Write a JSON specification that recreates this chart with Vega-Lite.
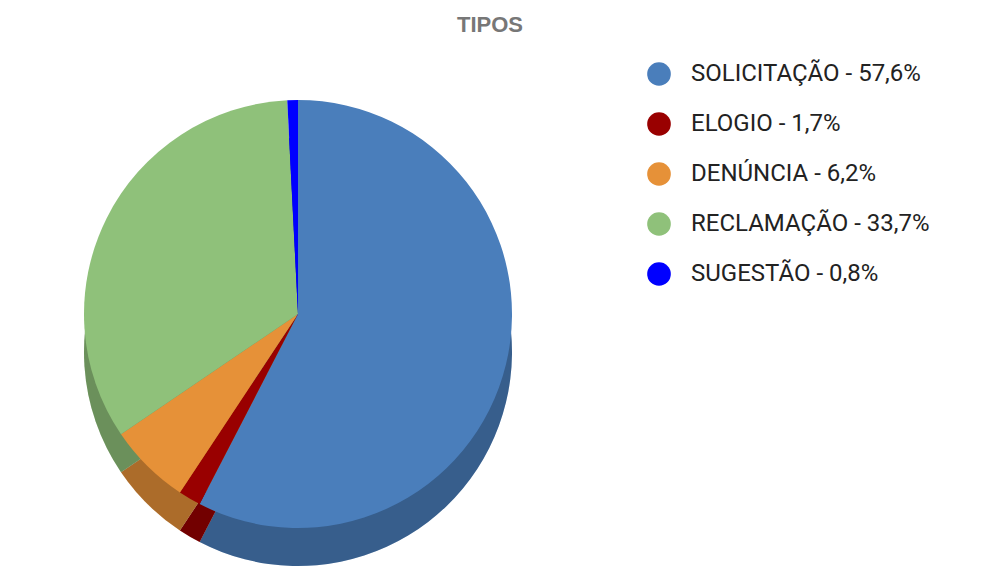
{
  "$schema": "https://vega.github.io/schema/vega-lite/v6.json",
  "autosize": {"type": "none"},
  "width": 596,
  "height": 508,
  "padding": {"left": 0, "top": 60, "right": 402, "bottom": 0},
  "background": "white",
  "title": {
    "text": "TIPOS",
    "font": "Liberation Sans",
    "fontSize": 22,
    "fontWeight": "bold",
    "color": "#777777",
    "anchor": "middle",
    "dx": 192,
    "offset": 23
  },
  "data": {
    "values": [
      {"tipo": "SOLICITAÇÃO - 57,6%", "pct": 57.6, "ord": 1},
      {"tipo": "ELOGIO - 1,7%", "pct": 1.7, "ord": 2},
      {"tipo": "DENÚNCIA - 6,2%", "pct": 6.2, "ord": 3},
      {"tipo": "RECLAMAÇÃO - 33,7%", "pct": 33.7, "ord": 4},
      {"tipo": "SUGESTÃO - 0,8%", "pct": 0.8, "ord": 5}
    ]
  },
  "encoding": {
    "theta": {"field": "pct", "type": "quantitative", "stack": true},
    "order": {"field": "ord", "type": "quantitative"}
  },
  "layer": [
    {
      "mark": {"type": "arc", "radius": 214, "yOffset": 38},
      "encoding": {
        "color": {
          "field": "tipo",
          "type": "nominal",
          "sort": null,
          "scale": {
            "domain": ["SOLICITAÇÃO - 57,6%", "ELOGIO - 1,7%", "DENÚNCIA - 6,2%", "RECLAMAÇÃO - 33,7%", "SUGESTÃO - 0,8%"],
            "range": ["#4a7ebb", "#990000", "#e69138", "#8fc17a", "#0000ff"]
          },
          "legend": {
            "title": null,
            "orient": "none",
            "legendX": 647,
            "legendY": 2,
            "symbolType": "circle",
            "symbolSize": 560,
            "symbolStrokeWidth": 0,
            "labelFont": "Roboto",
            "labelFontSize": 24,
            "labelColor": "#222222",
            "labelOffset": 20,
            "rowPadding": 26,
            "labelLimit": 400
          }
        }
      }
    },
    {
      "mark": {"type": "arc", "radius": 214, "yOffset": 38, "color": "black", "opacity": 0.25}
    },
    {
      "mark": {"type": "arc", "radius": 214},
      "encoding": {
        "color": {"field": "tipo", "type": "nominal", "sort": null}
      }
    }
  ]
}
